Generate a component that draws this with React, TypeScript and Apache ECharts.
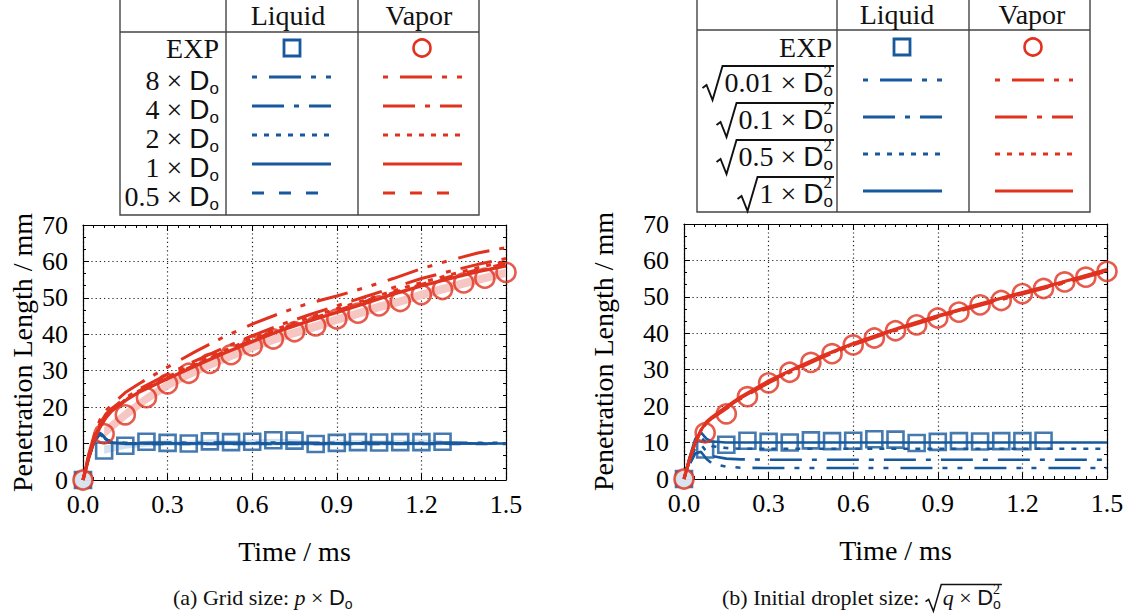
import React, { useEffect, useRef } from "react";
import * as echarts from "echarts";

const BLUE = "#17599c";
const RED = "#e0321f";
const SERIF = "Liberation Serif";
const SANS = "Liberation Sans";

// ---------- data ----------
const expTime = [0, 0.075, 0.15, 0.225, 0.3, 0.375, 0.45, 0.525, 0.6, 0.675, 0.75, 0.825, 0.9, 0.975, 1.05, 1.125, 1.2, 1.275, 1.35, 1.425, 1.5];
const expVapor = [0, 12.7, 17.9, 22.6, 26.4, 29.3, 32.0, 34.4, 36.8, 38.7, 40.7, 42.3, 44.2, 45.8, 47.8, 49.0, 50.9, 52.3, 54.1, 55.4, 57.0];
const expLiquid = [0, 8.1, 9.4, 10.5, 10.2, 10.0, 10.6, 10.4, 10.5, 10.9, 10.8, 9.9, 10.2, 10.4, 10.3, 10.4, 10.4, 10.5];

// experimental scatter bands in (a)
const vaporBandLowA = [11.5, 16.5, 21.0, 24.8, 27.8, 30.5, 32.9, 35.2, 37.3, 39.2, 40.9, 42.8, 44.5, 46.3, 47.8, 49.6, 51.2, 52.8, 54.3, 55.7];
const vaporBandHighA = [14.5, 19.3, 23.6, 27.3, 30.2, 32.9, 35.3, 37.6, 39.7, 41.6, 43.4, 45.2, 46.9, 48.7, 50.2, 52.0, 53.6, 55.2, 56.6, 58.0];
const liquidBandLowA = [7.2, 8.6, 9.2, 9.3, 9.4, 9.3, 9.5, 9.4, 9.5, 9.5, 9.3, 9.4, 9.5, 9.4, 9.5, 9.4, 9.5];
const liquidBandHighA = [9.5, 10.3, 10.8, 10.9, 10.8, 11.2, 11.0, 11.1, 11.3, 11.2, 10.6, 10.9, 11.0, 10.9, 11.0, 11.1, 11.0];

const simTime = [0, 0.02, 0.04, 0.06, 0.08, 0.1, 0.15, 0.2, 0.3, 0.4, 0.5, 0.6, 0.7, 0.8, 0.9, 1.0, 1.1, 1.2, 1.3, 1.4, 1.5];

// (a) grid size p x Do
const vaporA8 = [0, 7, 12.5, 16.5, 19, 20.5, 24, 26.5, 31, 35.3, 39.3, 42.8, 45.8, 48.5, 50.5, 52.8, 55.3, 58, 60.3, 62.3, 63.8];
const vaporA4 = [0, 6.5, 11.5, 15.5, 18, 19.5, 22.5, 25, 29, 32.8, 36.3, 39.6, 42.6, 45.3, 47.8, 50.3, 52.8, 55.3, 57.3, 59.2, 60.8];
const vaporA2 = [0, 6.5, 11.5, 15, 17.5, 19, 22, 24.5, 28.3, 32, 35.5, 38.8, 41.8, 44.5, 47, 49.4, 51.9, 54.2, 56.3, 58.3, 60.0];
const vaporA1 = [0, 6, 11, 14.5, 17, 18.8, 21.8, 24.2, 27.8, 31.4, 34.8, 38, 41, 43.6, 46, 48.5, 51, 53.3, 55.3, 57.2, 58.8];
const vaporA05 = [0, 6, 11, 14.5, 17, 18.8, 22, 24.4, 28, 31.7, 35.2, 38.4, 41.4, 44, 46.5, 49, 51.4, 53.7, 55.8, 57.7, 59.4];
const liquidA8 = [0, 6, 10.5, 12.5, 11.5, 10.5, 10.2, 10.2, 10.3, 10.2, 10.3, 10.2, 10.3, 10.2, 10.2, 10.3, 10.2, 10.2, 10.3, 10.2, 10.2];
const liquidA4 = [0, 6, 10.5, 12.8, 11.2, 10.3, 10.0, 10.1, 10.0, 10.1, 10.0, 10.0, 10.1, 10.0, 10.0, 10.1, 10.0, 10.0, 10.0, 10.0, 10.0];
const liquidA2 = [0, 6, 10.8, 12.6, 11.0, 10.4, 10.1, 10.1, 10.1, 10.0, 10.1, 10.1, 10.0, 10.1, 10.1, 10.0, 10.1, 10.1, 10.1, 10.1, 10.1];
const liquidA1 = [0, 6, 11, 13, 11.3, 10.2, 10.0, 10.0, 10.0, 10.0, 10.0, 10.0, 10.0, 10.0, 10.0, 10.0, 10.0, 10.0, 10.0, 10.0, 10.0];
const liquidA05 = [0, 6, 11, 13.2, 11.4, 10.1, 9.9, 9.9, 9.9, 9.9, 9.9, 9.9, 9.9, 9.9, 9.9, 9.9, 9.9, 9.9, 9.9, 9.9, 9.9];

// (b) initial droplet size sqrt(q x Do^2)
const vaporB001 = [0, 5.5, 10, 13.3, 15.5, 16.8, 19.5, 22.2, 26.6, 30.4, 33.9, 37.0, 39.7, 42.2, 44.6, 46.8, 48.9, 51.0, 53.0, 55.1, 57.3];
const vaporB01 = [0, 5.5, 10, 13.2, 15.4, 16.7, 19.3, 22.0, 26.4, 30.2, 33.7, 36.8, 39.5, 42.0, 44.4, 46.6, 48.7, 50.8, 52.8, 54.9, 57.0];
const vaporB05 = [0, 5.5, 10, 13.3, 15.6, 16.9, 19.6, 22.3, 26.7, 30.5, 34.0, 37.1, 39.8, 42.3, 44.7, 46.9, 49.0, 51.1, 53.1, 55.2, 57.4];
const vaporB1 = [0, 5.5, 10, 13.4, 15.7, 17.0, 19.8, 22.5, 26.9, 30.6, 34.1, 37.2, 39.9, 42.4, 44.8, 47.0, 49.1, 51.2, 53.2, 55.3, 57.5];
const liquidB001 = [0, 4, 7, 7.5, 5.5, 4.2, 3.4, 3.1, 3.0, 3.0, 3.0, 3.0, 3.0, 3.0, 3.0, 3.0, 3.0, 3.0, 3.0, 3.0, 3.0];
const liquidB01 = [0, 5, 8.5, 9.5, 7.5, 6.3, 5.6, 5.4, 5.3, 5.3, 5.3, 5.3, 5.3, 5.3, 5.3, 5.3, 5.3, 5.3, 5.3, 5.3, 5.3];
const liquidB05 = [0, 5.5, 10, 11.5, 9.8, 9.0, 8.5, 8.3, 8.3, 8.3, 8.3, 8.3, 8.3, 8.3, 8.3, 8.3, 8.3, 8.3, 8.3, 8.3, 8.3];
const liquidB1 = [0, 6, 11, 12.8, 11, 10.3, 10.0, 10.0, 10.0, 10.0, 10.0, 10.0, 10.0, 10.0, 10.0, 10.0, 10.0, 10.0, 10.0, 10.0, 10.0];

// legend labels
const colHeaders = ["Liquid", "Vapor"];
const gridFactorsA = ["8", "4", "2", "1", "0.5"];
const dropFactorsB = ["0.01", "0.1", "0.5", "1"];

const DASH_DDD = [5, 12, 32, 10, 5, 10];
const DASH_DD = [32, 10, 5, 10];
const DOTTED = [5, 7];
const DASHED = [12, 15];

// ---------- helpers ----------
let _ctx: CanvasRenderingContext2D | null = null;
function tw(text: string, size: number, fam: string, style = "normal") {
  if (!_ctx) _ctx = document.createElement("canvas").getContext("2d");
  _ctx!.font = `${style} ${size}px "${fam}"`;
  return _ctx!.measureText(text).width;
}

type Piece = { t: string; s: number; fam?: string; it?: boolean; dy?: number; adv?: number };
const pw = (p: Piece) => (p.adv !== undefined ? p.adv : tw(p.t, p.s, p.fam || SERIF, p.it ? "italic" : "normal"));
const totalW = (ps: Piece[]) => ps.reduce((a, p) => a + pw(p), 0);

function txt(text: string, x: number, y: number, size: number, fam: string, align = "left", italic = false) {
  return {
    type: "text",
    x,
    y,
    silent: true,
    style: {
      text,
      fontSize: size,
      fontFamily: fam,
      fontStyle: italic ? "italic" : "normal",
      fill: "#111",
      align,
      verticalAlign: "middle",
    },
  };
}

function placeRow(ps: Piece[], x0: number, yc: number, out: any[]) {
  let x = x0;
  for (const p of ps) {
    out.push(txt(p.t, x, yc + (p.dy || 0), p.s, p.fam || SERIF, "left", !!p.it));
    x += pw(p);
  }
  return x;
}

function dPieces(size: number, sup: boolean): Piece[] {
  const ss = Math.round(size * 0.62);
  const ps: Piece[] = [{ t: "D", s: size, fam: SANS }];
  if (sup) ps.push({ t: "2", s: ss, dy: -size * 0.36, adv: 0 });
  ps.push({ t: "o", s: ss, fam: SANS, dy: size * 0.3 });
  return ps;
}

function radical(xs: number, yc: number, size: number, xEnd: number, out: any[]) {
  const k = size / 28;
  out.push({
    type: "polyline",
    silent: true,
    shape: {
      points: [
        [xs - 22 * k, yc + 6 * k],
        [xs - 18 * k, yc + 3 * k],
        [xs - 12 * k, yc + 18 * k],
        [xs - 2 * k, yc - 16 * k],
        [xEnd, yc - 16 * k],
      ],
    },
    style: { stroke: "#111", lineWidth: 1.9 * k, fill: "none" },
  });
}

function seg(x1: number, y1: number, x2: number, y2: number, stroke: string, lw: number, dash?: number[] | null) {
  return { type: "line", silent: true, shape: { x1, y1, x2, y2 }, style: { stroke, lineWidth: lw, lineDash: dash || null } };
}

function frame(x1: number, x2: number, c1: number, c2: number, yTop: number, yHead: number, yBot: number, out: any[]) {
  out.push({ type: "rect", silent: true, shape: { x: x1, y: yTop, width: x2 - x1, height: yBot - yTop }, style: { stroke: "#444", lineWidth: 1.4, fill: "none" } });
  out.push(seg(c1, yTop, c1, yBot, "#444", 1.4));
  out.push(seg(c2, yTop, c2, yBot, "#444", 1.4));
  out.push(seg(x1, yHead, x2, yHead, "#444", 1.4));
}

function markers(sq: [number, number], ci: [number, number], out: any[]) {
  out.push({ type: "rect", silent: true, shape: { x: sq[0] - 8, y: sq[1] - 8, width: 16, height: 16 }, style: { stroke: BLUE, lineWidth: 2.8, fill: "none" } });
  out.push({ type: "circle", silent: true, shape: { cx: ci[0], cy: ci[1], r: 8.5 }, style: { stroke: RED, lineWidth: 2.6, fill: "none" } });
}

function buildGraphics() {
  const out: any[] = [];
  const FS = 28;
  // ---- table (a)
  frame(120, 479, 226, 358, -1, 32, 215, out);
  out.push(txt(colHeaders[0], 288, 15, FS, SERIF, "center"));
  out.push(txt(colHeaders[1], 419, 15, FS, SERIF, "center"));
  out.push(txt("EXP", 219, 48, FS, SERIF, "right"));
  markers([292, 48], [422, 48], out);
  const rowsA = [77, 106, 135, 164, 193];
  const dashesA = [DASH_DDD, DASH_DD, DOTTED, null, DASHED];
  gridFactorsA.forEach((f, i) => {
    const ps: Piece[] = [{ t: f + " × ", s: FS }, ...dPieces(FS, false)];
    const w = totalW(ps);
    placeRow(ps, 219 - w, rowsA[i] + 3, out);
    out.push(seg(252, rowsA[i], 331, rowsA[i], BLUE, 3, dashesA[i]));
    out.push(seg(383, rowsA[i], 462, rowsA[i], RED, 3, dashesA[i]));
  });

  // ---- table (b)
  frame(697, 1090, 837, 969, -1, 30, 212, out);
  out.push(txt(colHeaders[0], 897, 14, FS, SERIF, "center"));
  out.push(txt(colHeaders[1], 1032, 14, FS, SERIF, "center"));
  out.push(txt("EXP", 832, 47, FS, SERIF, "right"));
  markers([902, 47], [1033, 47], out);
  const rowsB = [80, 117, 154, 191];
  const dashesB = [DASH_DDD, DASH_DD, DOTTED, null];
  dropFactorsB.forEach((f, i) => {
    const ps: Piece[] = [{ t: f + " × ", s: FS }, ...dPieces(FS, true)];
    const w = totalW(ps);
    const xs = 833 - w;
    placeRow(ps, xs, rowsB[i] + 2, out);
    radical(xs, rowsB[i] + 2, FS, 834, out);
    out.push(seg(863, rowsB[i], 942, rowsB[i], BLUE, 3, dashesB[i]));
    out.push(seg(995, rowsB[i], 1073, rowsB[i], RED, 3, dashesB[i]));
  });

  // ---- captions
  const CS = 22;
  const capA: Piece[] = [{ t: "(a) Grid size: ", s: CS }, { t: "p", s: CS, it: true }, { t: " × ", s: CS }, ...dPieces(CS, false)];
  placeRow(capA, 173, 597, out);
  const capB: Piece[] = [{ t: "(b) Initial droplet size: ", s: CS }];
  const endB = placeRow(capB, 722, 597, out);
  const inner: Piece[] = [{ t: "q", s: CS, it: true }, { t: " × ", s: CS }, ...dPieces(CS, true)];
  const xs = endB + 18;
  const endInner = placeRow(inner, xs, 597, out);
  radical(xs, 597, CS, endInner + 1, out);
  return out;
}

function pairs(xs: number[], ys: number[]) {
  return ys.map((y, i) => [xs[i], y]);
}

function App() {
  const ref = useRef<HTMLDivElement>(null);
  useEffect(() => {
    if (!ref.current) return;
    const chart = echarts.init(ref.current, null, { renderer: "svg" });

    const grids = [
      { left: 83, top: 225, width: 423, height: 255 },
      { left: 684, top: 224, width: 423, height: 255 },
    ];
    const yNameGaps = [47, 67];

    const xAxes: any[] = [];
    const yAxes: any[] = [];
    const tickStyle = { color: "#000", width: 1 };
    grids.forEach((_, g) => {
      const common = {
        type: "value",
        gridIndex: g,
        axisLine: { show: true, onZero: false, lineStyle: { color: "#000", width: 1.2 } },
        axisTick: { show: true, inside: true, length: 6, lineStyle: tickStyle },
      };
      const xBase = { ...common, min: 0, max: 1.5, interval: 0.3, minorTick: { show: true, splitNumber: 8, length: 3, lineStyle: tickStyle } };
      const yBase = { ...common, min: 0, max: 70, interval: 10, minorTick: { show: true, splitNumber: 3, length: 3, lineStyle: tickStyle } };
      xAxes.push({
        ...xBase,
        position: "bottom",
        splitLine: { show: true, lineStyle: { color: "#222", type: [1.2, 3], width: 1.2 } },
        axisLabel: { show: true, formatter: (v: number) => v.toFixed(1), fontFamily: SERIF, fontSize: 26, color: "#000", margin: 11 },
        name: "Time / ms",
        nameLocation: "middle",
        nameGap: 57,
        nameTextStyle: { fontFamily: SERIF, fontSize: 28, color: "#000" },
      });
      xAxes.push({ ...xBase, position: "top", splitLine: { show: false }, axisLabel: { show: false } });
      yAxes.push({
        ...yBase,
        position: "left",
        splitLine: { show: true, lineStyle: { color: "#222", type: [1.2, 3], width: 1.2 } },
        axisLabel: { show: true, fontFamily: SERIF, fontSize: 26, color: "#000", margin: 15 },
        name: "Penetration Length / mm",
        nameLocation: "middle",
        nameRotate: 90,
        nameGap: yNameGaps[g],
        nameTextStyle: { fontFamily: SERIF, fontSize: 28, color: "#000" },
      });
      yAxes.push({ ...yBase, position: "right", splitLine: { show: false }, axisLabel: { show: false } });
    });

    const series: any[] = [];
    const line = (g: number, ys: number[], color: string, dash: any, width: number, z = 3) => {
      series.push({
        type: "line",
        xAxisIndex: g * 2,
        yAxisIndex: g * 2,
        data: pairs(simTime, ys),
        symbol: "none",
        showSymbol: false,
        silent: true,
        z,
        lineStyle: { color, width, type: dash === null ? "solid" : dash },
      });
    };
    const band = (g: number, xs: number[], lo: number[], hi: number[], color: string) => {
      series.push({
        type: "custom",
        xAxisIndex: g * 2,
        yAxisIndex: g * 2,
        silent: true,
        z: 1,
        data: xs.map((t, i) => [t, lo[i], hi[i]]),
        encode: { x: 0, y: [1, 2] },
        renderItem: (params: any, api: any) => {
          if (params.dataIndex !== 0) return null;
          const top = xs.map((t, i) => api.coord([t, hi[i]]));
          const bot = xs.map((t, i) => api.coord([t, lo[i]])).reverse();
          return { type: "polygon", shape: { points: top.concat(bot) }, style: { fill: color, stroke: null } };
        },
      });
    };
    const scatter = (g: number) => {
      series.push({
        type: "scatter", xAxisIndex: g * 2, yAxisIndex: g * 2, silent: true, z: 4,
        symbol: "rect", symbolSize: 16,
        data: expLiquid.map((y, i) => (i === 0 ? { value: [expTime[i], y], itemStyle: { color: BLUE } } : [expTime[i], y])),
        itemStyle: { color: "rgba(255,255,255,0)", borderColor: BLUE, borderWidth: 2.6 },
      });
      series.push({
        type: "scatter", xAxisIndex: g * 2, yAxisIndex: g * 2, silent: true, z: 5,
        symbol: "circle", symbolSize: 19,
        data: expVapor.map((y, i) => (i === 0 ? { value: [expTime[i], y], itemStyle: { color: "#fff" } } : [expTime[i], y])),
        itemStyle: { color: "rgba(255,255,255,0)", borderColor: RED, borderWidth: 2.6 },
      });
    };

    // (a)
    band(0, expTime.slice(1), vaporBandLowA, vaporBandHighA, "#f6c6c2");
    band(0, expTime.slice(1, 18), liquidBandLowA, liquidBandHighA, "#d3e0ef");
    scatter(0);
    line(0, liquidA05, BLUE, DASHED, 2.6);
    line(0, liquidA1, BLUE, null, 2.6);
    line(0, liquidA2, BLUE, DOTTED, 2.6);
    line(0, liquidA4, BLUE, DASH_DD, 2.6);
    line(0, liquidA8, BLUE, DASH_DDD, 2.6);
    line(0, vaporA05, RED, DASHED, 3, 6);
    line(0, vaporA1, RED, null, 3.4, 6);
    line(0, vaporA2, RED, DOTTED, 3, 6);
    line(0, vaporA4, RED, DASH_DD, 3, 6);
    line(0, vaporA8, RED, DASH_DDD, 3, 6);

    // (b)
    line(1, liquidB001, BLUE, DASH_DDD, 2.6);
    line(1, liquidB01, BLUE, DASH_DD, 2.6);
    line(1, liquidB05, BLUE, DOTTED, 2.6);
    line(1, liquidB1, BLUE, null, 2.6);
    scatter(1);
    line(1, vaporB001, RED, DASH_DDD, 3, 6);
    line(1, vaporB01, RED, DASH_DD, 3, 6);
    line(1, vaporB05, RED, DOTTED, 3, 6);
    line(1, vaporB1, RED, null, 3.2, 6);

    chart.setOption({
      animation: false,
      backgroundColor: "#fff",
      grid: grids,
      xAxis: xAxes,
      yAxis: yAxes,
      series,
      graphic: { elements: buildGraphics() },
    });
    return () => chart.dispose();
  }, []);

  return <div ref={ref} style={{ position: "fixed", left: 0, top: 0, width: 1129, height: 616, background: "#fff" }} />;
}

export default App;
